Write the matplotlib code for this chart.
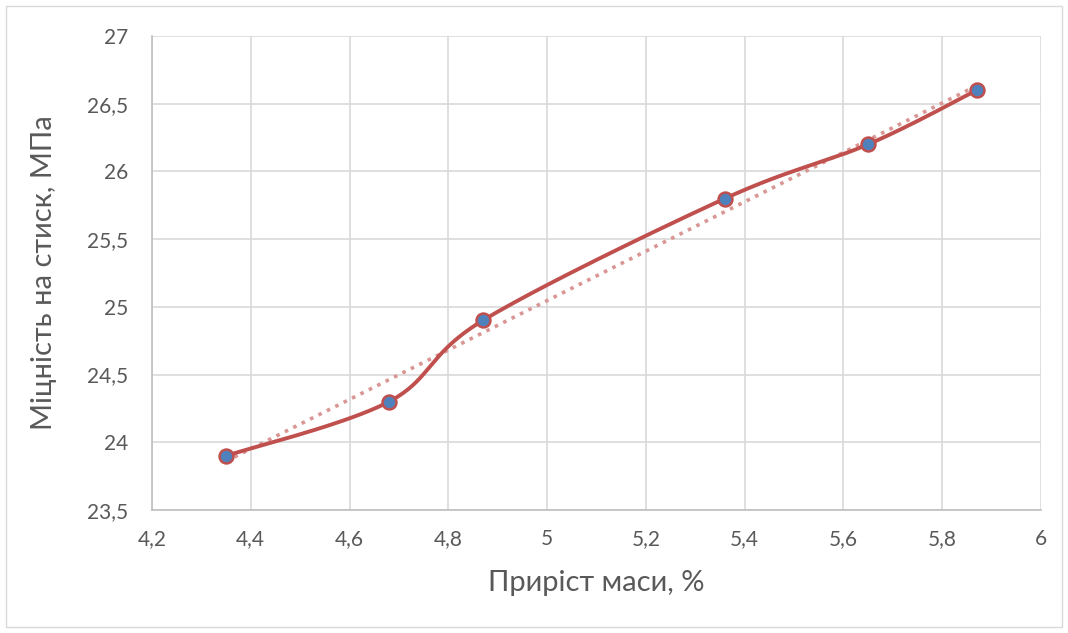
import numpy as np
import matplotlib
matplotlib.use('Agg')
import matplotlib.pyplot as plt
from matplotlib.ticker import FuncFormatter
from matplotlib.patches import Rectangle

# приріст маси, % та міцність на стиск, МПа
mass_gain = [4.35, 4.68, 4.87, 5.36, 5.65, 5.87]
strength = [23.9, 24.3, 24.9, 25.8, 26.2, 26.6]

plt.rcParams['font.family'] = ['Lato', 'DejaVu Sans']


def smooth_curve(x, y, n=40):
    # згладжена крива у стилі Excel (кубічні сплайни Безьє)
    p = np.column_stack([x, y]).astype(float)
    p_ext = np.vstack([p[0], p, p[-1]])
    pts = []
    for i in range(len(p) - 1):
        p0, p1, p2, p3 = p_ext[i], p_ext[i + 1], p_ext[i + 2], p_ext[i + 3]
        c1 = p1 + (p2 - p0) / 6
        c2 = p2 - (p3 - p1) / 6
        t = np.linspace(0, 1, n)[:, None]
        seg = ((1 - t) ** 3) * p1 + 3 * ((1 - t) ** 2) * t * c1 \
            + 3 * (1 - t) * t ** 2 * c2 + t ** 3 * p2
        pts.append(seg if i == 0 else seg[1:])
    pts = np.vstack(pts)
    return pts[:, 0], pts[:, 1]


fig = plt.figure(figsize=(10.68, 6.33), dpi=100)
ax = fig.add_axes([152 / 1068, 1 - 510 / 633, (1041 - 152) / 1068, (510 - 36) / 633])

# рамка діаграми
fig.patches.append(Rectangle((6 / 1068, 6 / 633), 1056 / 1068, 621 / 633,
                             transform=fig.transFigure, fill=False,
                             edgecolor='#d9d9d9', linewidth=1))

# лінійний тренд
k, b = np.polyfit(mass_gain, strength, 1)
xt = np.array([mass_gain[0], mass_gain[-1]])
ax.plot(xt, k * xt + b, linestyle=(0, (1, 1.6)), color='#d99694',
        linewidth=2.6, zorder=3)

xs, ys = smooth_curve(mass_gain, strength)
ax.plot(xs, ys, color='#c0504d', linewidth=2.8, zorder=4,
        solid_capstyle='round')
ax.plot(mass_gain, strength, linestyle='none', marker='o', markersize=10,
        markerfacecolor='#4f81bd', markeredgecolor='#c0504d',
        markeredgewidth=1.8, zorder=5)

ax.set_xlim(4.2, 6)
ax.set_ylim(23.5, 27)
ax.set_xticks(np.arange(4.2, 6.01, 0.2))
ax.set_yticks(np.arange(23.5, 27.01, 0.5))

fmt = FuncFormatter(lambda v, pos: ('%g' % round(v, 2)).replace('.', ','))
ax.xaxis.set_major_formatter(fmt)
ax.yaxis.set_major_formatter(fmt)

ax.grid(True, color='#d9d9d9', linewidth=1.2)
ax.set_axisbelow(True)
for side in ['top', 'right']:
    ax.spines[side].set_visible(False)
for side in ['left', 'bottom']:
    ax.spines[side].set_color('#bfbfbf')
    ax.spines[side].set_linewidth(1.2)
ax.tick_params(length=0, labelsize=15, labelcolor='#595959')
ax.tick_params(axis='y', pad=17)
ax.tick_params(axis='x', pad=14)

ax.set_xlabel('Приріст маси, %', fontsize=21, color='#595959', labelpad=15)
ax.set_ylabel('Міцність на стиск, МПа', fontsize=21, color='#595959',
              labelpad=22)

fig.savefig('out.png', dpi=100)
